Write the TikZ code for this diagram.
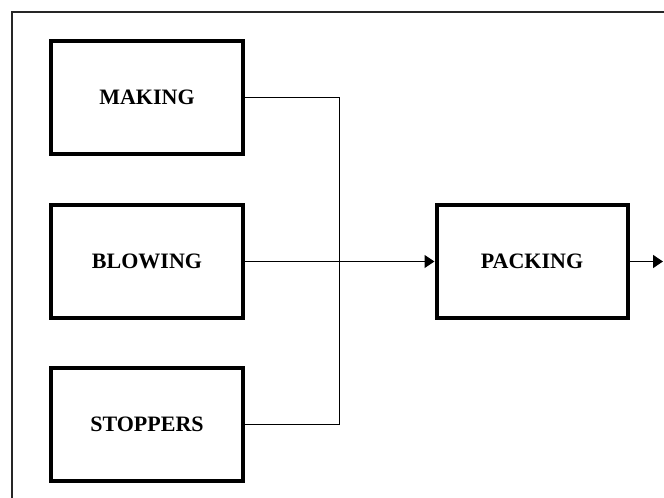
\documentclass[tikz,border=0pt]{standalone}
\usepackage{fontspec}
\setmainfont{Liberation Serif}
\usetikzlibrary{arrows.meta}
\begin{document}
\begin{tikzpicture}[x=1bp,y=-1bp,
  procbox/.style={draw=black,line width=4bp,minimum width=191bp,minimum height=113bp,
    inner sep=0pt,font=\fontsize{22bp}{26bp}\selectfont\bfseries},
  conn/.style={draw=black,line width=1.3bp},
  arr/.style={conn,-{Triangle[length=10bp,width=13bp]}}]
\useasboundingbox (0,0) rectangle (664,498);
\draw[line width=1.5bp,color=black!85] (12,498) -- (12,12) -- (664,12);
\node[procbox] (m) at (147,97.5) {MAKING};
\node[procbox] (b) at (147,261.5) {BLOWING};
\node[procbox] (s) at (147,424.5) {STOPPERS};
\node[procbox] (p) at (532,261.5) {PACKING};
\coordinate (j) at (339.5,261.5);
\coordinate (out) at (663,261.5);
\draw[conn] (m.east) -| (j);
\draw[conn] (s.east) -| (j);
\draw[arr] (b.east) -- (p.west);
\draw[arr] (p.east) -- (out);
\end{tikzpicture}
\end{document}
